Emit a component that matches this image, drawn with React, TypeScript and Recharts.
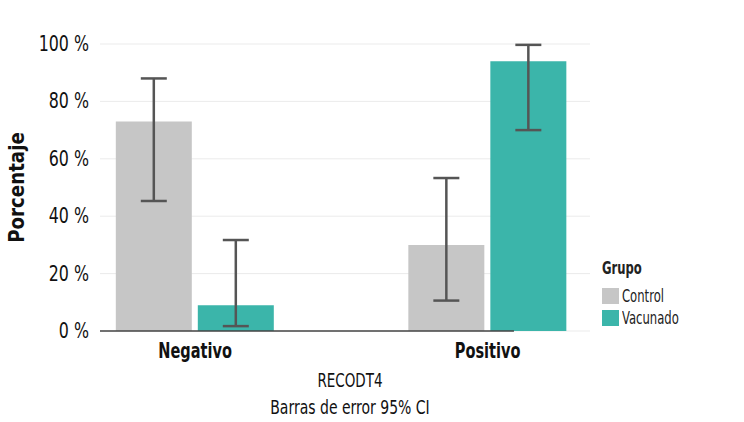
import { BarChart, Bar, XAxis, YAxis, CartesianGrid, ErrorBar, ReferenceLine, Label } from 'recharts';

const FONT = "'DejaVu Sans Condensed', 'DejaVu Sans', sans-serif";

// Groups along the x axis and their numeric positions
const GROUPS = ['Negativo', 'Positivo'];
const GROUP_POS = [1, 2];
const X_DOMAIN: [number, number] = [0.675, 2.35];

// Mean percentages with 95% CI bounds
const CONTROL = [73, 30];
const CONTROL_LOW = [45.3, 10.6];
const CONTROL_HIGH = [88, 53.3];
const VACUNADO = [9, 94];
const VACUNADO_LOW = [1.7, 70];
const VACUNADO_HIGH = [31.7, 99.7];

const Y_TICKS = [0, 20, 40, 60, 80, 100];

const SERIES = [
    { key: 'control', name: 'Control', color: '#c6c6c6' },
    { key: 'vacunado', name: 'Vacunado', color: '#3bb5aa' },
];

const data = GROUPS.map((g, i) => ({
    pos: GROUP_POS[i],
    name: g,
    control: CONTROL[i],
    controlErr: [CONTROL[i] - CONTROL_LOW[i], CONTROL_HIGH[i] - CONTROL[i]],
    vacunado: VACUNADO[i],
    vacunadoErr: [VACUNADO[i] - VACUNADO_LOW[i], VACUNADO_HIGH[i] - VACUNADO[i]],
}));

// squeezed text, the available fonts are wider than the original condensed face
function NarrowText({ x, y, sx = 0.8, anchor = 'middle', size, weight = 400, children, rotate = 0 }: any) {
    return (
        <text
            transform={`translate(${x},${y}) rotate(${rotate}) scale(${sx},1)`}
            textAnchor={anchor}
            style={{ fontFamily: FONT, fontSize: size, fontWeight: weight, fill: '#111' }}
        >
            {children}
        </text>
    );
}

const YTick = ({ x, y, payload }: any) => (
    <NarrowText x={x} y={y + 7} anchor="end" size={22} sx={0.8}>{`${payload.value} %`}</NarrowText>
);

const XTick = ({ x, y, payload }: any) => (
    <NarrowText x={x} y={y + 19} size={21} weight={700} sx={0.77}>{GROUPS[payload.value - 1]}</NarrowText>
);

function GroupLegend() {
    const narrow = { display: 'inline-block', transform: 'scaleX(0.76)', transformOrigin: 'left center', whiteSpace: 'nowrap' as const };
    return (
        <div style={{ position: 'absolute', left: 602, top: 0, fontFamily: FONT, color: '#222', fontSize: 17 }}>
            <div style={{ position: 'absolute', top: 258, left: 0, fontWeight: 600, ...narrow }}>Grupo</div>
            {SERIES.map((s, i) => (
                <div key={s.key} style={{ position: 'absolute', top: 288 + i * 22, left: 0, height: 16, display: 'flex', alignItems: 'center' }}>
                    <span style={{ width: 17, height: 16, background: s.color, display: 'inline-block', flex: 'none' }} />
                    <span style={{ marginLeft: 3, ...narrow }}>{s.name}</span>
                </div>
            ))}
        </div>
    );
}

export default function App() {
    return (
        <div style={{ position: 'absolute', left: 0, top: 0, width: 744, height: 422, background: '#fff' }}>
            <BarChart
                width={744}
                height={422}
                data={data}
                margin={{ top: 44, right: 154, bottom: 51, left: 40 }}
                barSize={76}
                barGap={6}
            >
                <CartesianGrid vertical={false} stroke="#ebebeb" strokeWidth={1} />
                <XAxis
                    type="number"
                    dataKey="pos"
                    domain={X_DOMAIN}
                    ticks={GROUP_POS}
                    allowDataOverflow
                    axisLine={false}
                    tickLine={false}
                    tickMargin={2}
                    height={40}
                    tick={<XTick />}
                >
                    <Label
                        content={({ viewBox }: any) => {
                            const cx = viewBox.x + viewBox.width / 2 + 5;
                            return (
                                <g>
                                    <NarrowText x={cx} y={387} size={19} sx={0.79}>RECODT4</NarrowText>
                                    <NarrowText x={cx} y={414} size={19} sx={0.82}>Barras de error 95% CI</NarrowText>
                                </g>
                            );
                        }}
                    />
                </XAxis>
                <YAxis
                    domain={[0, 100]}
                    ticks={Y_TICKS}
                    axisLine={false}
                    tickLine={false}
                    tickMargin={5}
                    width={60}
                    tick={<YTick />}
                >
                    <Label
                        content={({ viewBox }: any) => {
                            const cy = viewBox.y + viewBox.height / 2;
                            return (
                                <NarrowText x={24} y={cy} rotate={-90} size={22} weight={700} sx={0.92}>
                                    Porcentaje
                                </NarrowText>
                            );
                        }}
                    />
                </YAxis>
                {SERIES.map((s) => (
                    <Bar key={s.key} dataKey={s.key} name={s.name} fill={s.color} isAnimationActive={false}>
                        <ErrorBar dataKey={`${s.key}Err`} width={13} stroke="#555" strokeWidth={2.5} direction="y" />
                    </Bar>
                ))}
                <ReferenceLine
                    segment={[{ x: X_DOMAIN[0], y: 0 }, { x: 2.09, y: 0 }]}
                    stroke="#444"
                    strokeWidth={1.5}
                    ifOverflow="visible"
                />
            </BarChart>
            <GroupLegend />
        </div>
    );
}
